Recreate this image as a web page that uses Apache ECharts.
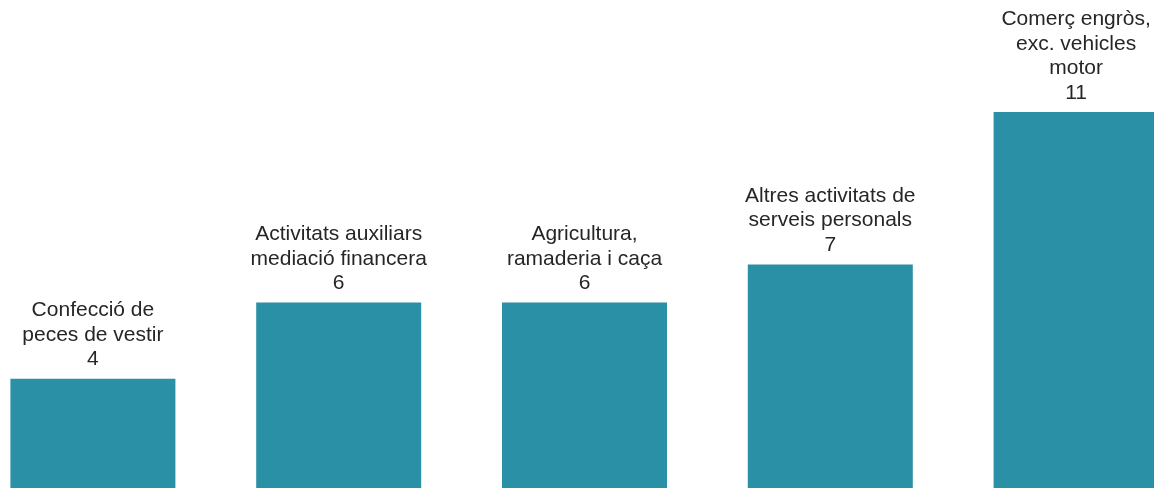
<!DOCTYPE html>
<html>
<head>
<meta charset="utf-8">
<script src="https://cdn.jsdelivr.net/npm/echarts@6/dist/echarts.min.js"></script>
<style>
  html, body { margin: 0; padding: 0; background: #fff; overflow: hidden; }
  body { width: 1154px; height: 488px; }
  /* the plot is wider than the window: first and last bands are cut */
  #chart { width: 1229px; height: 488px; margin-left: -30px; }
</style>
</head>
<body>
<div id="chart"></div>
<script>
// categories (line breaks as in the picture)
const categories = [
  'Confecció de\npeces de vestir',
  'Activitats auxiliars\nmediació financera',
  'Agricultura,\nramaderia i caça',
  'Altres activitats de\nserveis personals',
  'Comerç engròs,\nexc. vehicles\nmotor'
];
const values = [4, 6, 6, 7, 11];

const chart = echarts.init(document.getElementById('chart'));

chart.setOption({
  animation: false,
  grid: { left: 0, right: 0, top: 0, bottom: 0, containLabel: false },
  xAxis: {
    type: 'category',
    data: categories,
    show: false
  },
  yAxis: {
    type: 'value',
    min: 1.13,
    max: 13.94,
    show: false
  },
  series: [{
    type: 'bar',
    data: values,
    barWidth: 165,
    itemStyle: { color: '#2A90A6' },
    label: {
      show: true,
      position: 'top',
      distance: 7,
      color: '#262626',
      fontFamily: 'Liberation Sans, Arial, sans-serif',
      fontSize: 21,
      lineHeight: 24.5,
      align: 'center',
      formatter: p => p.name + '\n' + p.value
    }
  }]
});
</script>
</body>
</html>
